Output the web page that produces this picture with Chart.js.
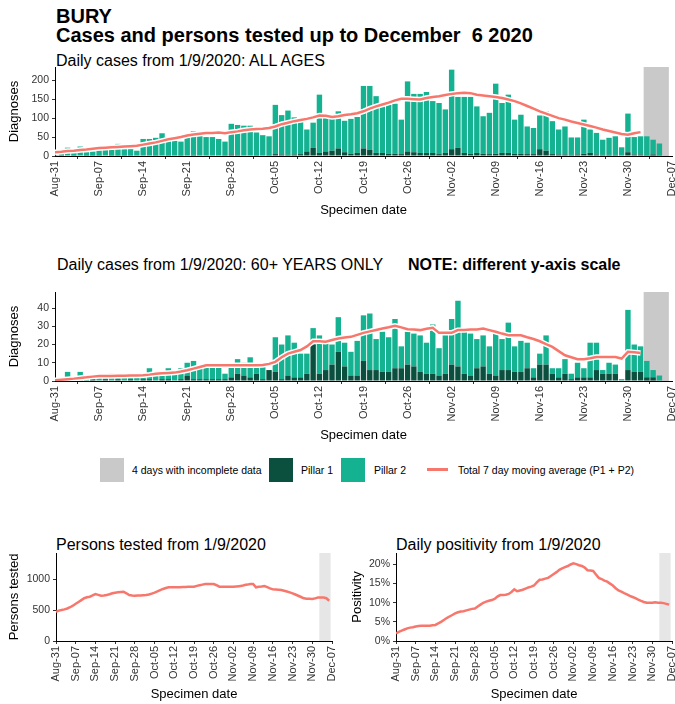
<!DOCTYPE html>
<html>
<head>
<meta charset="utf-8">
<script src="https://cdn.jsdelivr.net/npm/chart.js@4.4.0/dist/chart.umd.min.js"></script>
<style>
  body { margin: 0; width: 675px; height: 704px; background: #fff; position: relative; overflow: hidden;
         font-family: "Liberation Sans", Arial, sans-serif; color: #000; }
  .txt { position: absolute; line-height: 1; white-space: pre; }
  .sq { position: absolute; width: 24px; height: 24px; top: 458px; }
  canvas { position: absolute; }
</style>
</head>
<body>

<div class="txt" style="left:56px; top:6px; font-size:20px; font-weight:bold;">BURY</div>
<div class="txt" style="left:56px; top:25px; font-size:20px; font-weight:bold;">Cases and persons tested up to December  6 2020</div>
<div class="txt" style="left:56px; top:53px; font-size:16px;">Daily cases from 1/9/2020: ALL AGES</div>
<div class="txt" style="left:57px; top:257px; font-size:16px;">Daily cases from 1/9/2020: 60+ YEARS ONLY</div>
<div class="txt" style="left:408px; top:257px; font-size:16px; font-weight:bold;">NOTE: different y-axis scale</div>
<div class="txt" style="left:56px; top:537px; font-size:16px;">Persons tested from 1/9/2020</div>
<div class="txt" style="left:396px; top:537px; font-size:16px;">Daily positivity from 1/9/2020</div>

<!-- leyenda -->
<div class="sq" style="left:100px; background:#c9c9c9;"></div>
<div class="txt" style="left:132px; top:465px; font-size:10.5px;">4 days with incomplete data</div>
<div class="sq" style="left:269px; background:#0b4f3f;"></div>
<div class="txt" style="left:301px; top:465px; font-size:10.5px;">Pillar 1</div>
<div class="sq" style="left:341px; background:#14b291;"></div>
<div class="txt" style="left:374px; top:465px; font-size:10.5px;">Pillar 2</div>
<div style="position:absolute; left:427px; top:468px; width:21px; height:3px; background:#f7776c;"></div>
<div class="txt" style="left:458px; top:465px; font-size:10.5px;">Total 7 day moving average (P1 + P2)</div>

<canvas id="allAges" width="675" height="158" style="left:0; top:62px;"></canvas>
<canvas id="over60" width="675" height="158" style="left:0; top:287px;"></canvas>
<canvas id="tested" width="340" height="156" style="left:0; top:548px;"></canvas>
<canvas id="positivity" width="335" height="156" style="left:340px; top:548px;"></canvas>

<script>
// --- DATOS (día 0 = 31 ago 2020) ---
const dateTicks = ['Aug-31', 'Sep-07', 'Sep-14', 'Sep-21', 'Sep-28', 'Oct-05', 'Oct-12', 'Oct-19',
                   'Oct-26', 'Nov-02', 'Nov-09', 'Nov-16', 'Nov-23', 'Nov-30', 'Dec-07'];
const incompleteDays = [94, 95, 96, 97]; // 3-6 dic

const ticksAll = [0, 50, 100, 150, 200];
const ticksOver60 = [0, 10, 20, 30, 40];
const ticksTested = [0, 500, 1000];
const ticksPositivity = [0, 5, 10, 15, 20];

const pillar1All = [0,1,0,1,0,1,1, 1,0,1,1,1,1,2, 2,2,1,2,1,2,1, 2,3,2,2,2,2,1, 4,3,2,2,1,2,1,
  5,4,3,4,5,12,22, 8,12,14,20,10,6,8, 20,16,8,8,6,6,5, 12,10,8,8,8,5,8, 18,22,8,6,8,6,5,
  6,8,8,6,6,5,5, 18,14,5,4,4,3,4, 6,8,4,3,3,3,2, 10,4,4,2,4,2];
const pillar2All = [3,5,22,7,25,9,11, 14,18,19,31,17,17,12, 43,43,47,58,49,38,37, 53,62,53,48,48,43,37,
  81,79,78,78,61,53,51, 130,104,117,98,85,58,66, 154,96,86,98,83,92,95, 165,169,150,123,129,132,91,
  185,154,156,161,137,135,115, 210,134,148,150,123,99,109, 185,132,154,90,103,73,69,
  89,104,87,66,74,46,45, 90,62,57,40,45,49,21, 102,46,48,50,39,31];
const avgAll = [10,11,13,14,16,17,19, 21,22,23,24,25,26,27, 30,33,36,40,44,47,50, 54,57,59,61,61,62,60,
  63,65,68,70,71,72,74, 78,84,88,92,95,98,102, 107,106,103,105,108,110,113, 118,125,131,136,141,147,151,
  151,150,149,153,156,158,161, 164,166,167,166,162,160,158, 156,153,149,145,139,132,125,
  118,112,106,100,96,91,87, 83,79,75,70,66,62,58, 56,60,63];

const pillar1Over60 = [0,0,0,0,0,0,1, 0,1,0,1,0,1,0, 1,1,0,1,1,0,1, 3,1,1,1,1,1,1, 2,4,3,2,4,1,6,
  5,1,3,2,2,4,20, 4,6,9,16,8,3,3, 11,6,6,5,5,7,7, 9,8,5,4,4,3,4, 9,8,4,3,7,8,4,
  3,6,6,5,5,7,2, 9,9,4,2,4,1,2, 2,2,6,4,4,4,0, 6,5,5,2,2,0];
const pillar2Over60 = [1,1,5,1,5,1,1, 2,1,4,1,2,1,2, 1,6,3,2,6,5,6, 7,10,6,7,7,7,3, 6,8,7,11,5,8,0,
  19,19,22,19,13,11,9, 21,15,11,19,13,13,19, 25,31,17,22,19,27,12, 18,18,20,17,27,15,23,
  25,36,23,23,16,17,15, 24,17,26,14,17,14,5, 6,16,3,5,8,3,8, 5,19,15,2,6,5,1, 33,15,14,9,4,3];
const avgOver60 = [0.4,0.7,1.0,1.3,1.7,2.0,2.4, 2.7,2.8,2.8,2.9,2.9,3.0,3.0, 3.1,3.5,4.0,4.2,4.4,4.6,5.2,
  5.9,6.8,7.7,8.6,8.6,8.6,8.6, 8.6,8.6,8.6,8.6,8.6,8.8,9.4, 10.5,13,15,16,17,19,21.8,
  21.8,21.5,22.5,23.3,23.8,24.2,25.3, 26.4,27.2,28,28.8,29.5,30.3,29.4, 28.4,28.2,27.9,28.6,29.2,26.4,26.4,
  26.4,27.9,28,28.2,28.3,28.8,27.9, 27,26,25.1,25.1,25.1,24,23, 21.8,20.2,18.7,16.4,14.1,13,11.9,
  11.9,12.5,13.2,13.2,13.2,13.2,12.3, 16,15.7,15.4];

const personsTested = [470,490,500,510,525,545,570, 600,630,660,690,705,715,735, 758,745,731,735,742,755,770,
  780,785,790,795,770,742,735, 731,733,735,738,742,750,765, 780,800,822,840,855,866,866,
  866,866,868,870,872,874,875, 876,890,900,910,919,919,919, 919,900,876,876,876,876,876,
  876,880,885,890,903,910,919, 919,866,875,880,887,870,850, 833,830,826,822,810,798,785,
  769,750,730,710,688,682,680, 677,688,700,700,700,690,650];
const positivity = [2.0,2.4,2.7,3.0,3.3,3.5,3.6, 3.8,3.9,4.0,4.0,4.0,4.0,4.1, 4.2,4.6,5.0,5.5,6.0,6.4,6.8,
  7.2,7.5,7.7,7.8,8.0,8.2,8.4, 8.5,9.0,9.5,10.0,10.3,10.5,10.7, 11.0,11.6,12.0,12.0,12.1,12.3,12.8,
  13.5,13.0,13.2,13.4,13.7,14.0,14.2, 14.5,15.3,16.0,16.1,16.3,16.5,17.0, 17.5,18.0,18.6,19.0,19.3,19.6,20.0,
  20.3,20.1,19.8,19.6,19.2,18.5,18.4, 18.3,17.4,16.5,16.2,15.8,15.5,15.0, 14.5,13.8,13.2,12.9,12.5,12.2,11.8,
  11.5,11.2,10.8,10.5,10.2,10.0,10.0, 10.0,10.1,10.0,10.0,9.9,9.7,9.5];

// --- ESTILO ---
const TEAL = '#14b291';
const DARK = '#0b4f3f';
const RED = '#f7776c';

Chart.defaults.font.family = '"Liberation Sans", Arial, sans-serif';
Chart.defaults.animation = false;

const toPoints = (arr) => arr.map((v, i) => ({ x: i, y: v }));

// Banda gris para los días incompletos, dibujada detrás de las barras
const incompleteBand = {
  id: 'incompleteBand',
  beforeDatasetsDraw(chart, args, opts) {
    const { ctx, chartArea, scales: { x } } = chart;
    const left = x.getPixelForValue(incompleteDays[0] - 0.5);
    const right = x.getPixelForValue(incompleteDays[incompleteDays.length - 1] + 0.5);
    ctx.save();
    ctx.fillStyle = opts.color;
    ctx.fillRect(left, chartArea.top, right - left, chartArea.bottom - chartArea.top);
    ctx.restore();
  }
};

const xAxis = (boxHeight) => ({
  type: 'linear', min: 0, max: 98, offset: false, stacked: true,
  afterFit: (s) => { s.height = boxHeight; s.paddingLeft = 0; s.paddingRight = 0; },
  ticks: {
    stepSize: 7, autoSkip: false, minRotation: 90, maxRotation: 90, padding: 2,
    color: '#333', font: { size: 11 }, callback: (v) => dateTicks[v / 7]
  },
  grid: { drawOnChartArea: false, tickLength: 3, color: '#333' },
  border: { color: '#000', width: 1 },
  title: { display: true, text: 'Specimen date', color: '#000', font: { size: 13 }, padding: { top: 2, bottom: 2 } }
});

const yAxis = (boxWidth, max, tickValues, label, suffix) => ({
  min: 0, max: max, stacked: true,
  afterFit: (s) => { s.width = boxWidth; s.paddingTop = 0; s.paddingBottom = 0; },
  afterBuildTicks: (s) => { s.ticks = tickValues.map((v) => ({ value: v })); },
  ticks: { padding: 3, color: '#333', font: { size: 10.5 }, callback: (v) => v + suffix },
  grid: { drawOnChartArea: false, tickLength: 3, color: '#333' },
  border: { color: '#000', width: 1 },
  title: { display: true, text: label, color: '#000', font: { size: 13 }, padding: { top: 3, bottom: 0 } }
});

const renderCasesChart = (canvasId, p1, p2, avg, yMax, yTicks) => {
  new Chart(document.getElementById(canvasId), {
    data: {
      datasets: [
        { type: 'line', label: 'avg', data: toPoints(avg), borderColor: RED, borderWidth: 2.5,
          pointRadius: 0, stack: 'avg', order: 0 },
        { type: 'line', label: 'halo', data: toPoints(avg), borderColor: '#ffffff', borderWidth: 5.5,
          pointRadius: 0, stack: 'halo', order: 1 },
        { type: 'bar', label: 'Pillar 1', data: toPoints(p1), backgroundColor: DARK,
          barPercentage: 1, categoryPercentage: 0.86, stack: 'cases', order: 2 },
        { type: 'bar', label: 'Pillar 2', data: toPoints(p2), backgroundColor: TEAL,
          barPercentage: 1, categoryPercentage: 0.86, stack: 'cases', order: 3 }
      ]
    },
    options: {
      responsive: false,
      layout: { padding: { left: 4, top: 5, right: 3, bottom: 0 } },
      scales: { x: xAxis(64), y: yAxis(51, yMax, yTicks, 'Diagnoses', '') },
      plugins: { legend: { display: false }, tooltip: { enabled: false }, incompleteBand: { color: '#c9c9c9' } }
    },
    plugins: [incompleteBand]
  });
};

const renderLineChart = (canvasId, values, yMax, yTicks, label, suffix, padLeft, yWidth, padRight) => {
  new Chart(document.getElementById(canvasId), {
    type: 'line',
    data: {
      datasets: [{ data: toPoints(values), borderColor: RED, borderWidth: 2.5, pointRadius: 0 }]
    },
    options: {
      responsive: false,
      layout: { padding: { left: padLeft, top: 5, right: padRight, bottom: 0 } },
      scales: { x: xAxis(63), y: yAxis(yWidth, yMax, yTicks, label, suffix) },
      plugins: { legend: { display: false }, tooltip: { enabled: false }, incompleteBand: { color: '#e6e6e6' } }
    },
    plugins: [incompleteBand]
  });
};

renderCasesChart('allAges', pillar1All, pillar2All, avgAll, 235, ticksAll);
renderCasesChart('over60', pillar1Over60, pillar2Over60, avgOver60, 48.8, ticksOver60);
renderLineChart('tested', personsTested, 1420, ticksTested, 'Persons tested', '', 4, 52, 8);
renderLineChart('positivity', positivity, 23, ticksPositivity, 'Positivity', '%', 7, 49, 3);
</script>
</body>
</html>
